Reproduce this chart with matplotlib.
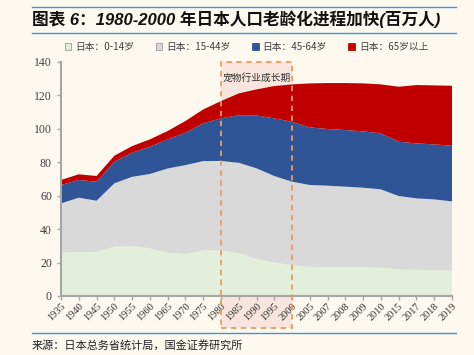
import matplotlib
matplotlib.use("Agg")
import matplotlib.pyplot as plt
import numpy as np
from matplotlib.lines import Line2D
from matplotlib.patches import Rectangle
import matplotlib.transforms as mtransforms

years = ["1935", "1940", "1945", "1950", "1955", "1960", "1965", "1970", "1975", "1980",
         "1985", "1990", "1995", "2000", "2005", "2007", "2008", "2009", "2010", "2015",
         "2017", "2018", "2019"]
age_0_14 = [25.9, 26.3, 26.4, 29.5, 29.9, 28.5, 25.9, 25.1, 27.3, 27.3,
            25.8, 22.3, 20.1, 18.5, 17.5, 17.3, 17.2, 17.1, 16.9, 16.0,
            15.6, 15.4, 15.2]
age_15_44 = [29.5, 32.5, 30.6, 37.9, 41.4, 44.5, 50.4, 53.2, 53.4, 53.5,
             53.9, 54.1, 51.7, 49.9, 48.9, 48.7, 48.2, 47.7, 46.9, 43.8,
             42.8, 42.4, 41.4]
age_45_64 = [11.0, 10.6, 11.4, 12.9, 14.4, 16.3, 17.4, 19.4, 22.6, 25.5,
             28.5, 31.6, 34.5, 35.8, 34.5, 33.9, 33.9, 33.7, 33.5, 32.5,
             32.9, 32.9, 33.3]
age_65 = [3.0, 3.4, 3.4, 3.6, 4.0, 4.4, 5.0, 7.0, 8.3, 10.3,
          13.0, 15.6, 19.3, 22.4, 26.3, 27.5, 28.1, 28.7, 29.3, 32.9,
          34.9, 35.3, 35.9]
series_labels = ["日本：0-14岁", "日本：15-44岁", "日本：45-64岁", "日本：65岁以上"]
title = "图表 6：1980-2000 年日本人口老龄化进程加快(百万人)"
source = "来源：日本总务省统计局，国金证券研究所"
band_label = "宠物行业成长期"
band_start, band_end = "1980", "2000"

BG = "#FDF9EF"
colors = ["#E2EFDA", "#D9D9D9", "#2F5597", "#C00000"]
CJK = ["Noto Sans CJK SC", "DejaVu Sans"]
plt.rcParams['font.family'] = CJK

fig = plt.figure(figsize=(4.74, 3.55), dpi=100, facecolor=BG)
W, H = 474, 355
ax = fig.add_axes([61 / W, 1 - 296 / H, (452 - 61) / W, (296 - 62) / H])
ax.set_facecolor("none")

x = np.arange(len(years))
ax.stackplot(x, age_0_14, age_15_44, age_45_64, age_65, colors=colors,
             labels=series_labels, zorder=1, linewidth=0)
ax.set_xlim(0, len(years) - 1)
ax.set_ylim(0, 140)
ax.set_yticks(np.arange(0, 141, 20))
ax.set_xticks(x)
ax.set_xticklabels(years, rotation=45, ha="right", rotation_mode="anchor",
                   fontfamily="Liberation Serif", fontsize=7.5, color="#333333")
for lab in ax.get_yticklabels():
    lab.set_fontfamily("Liberation Serif")
    lab.set_fontsize(8.5)
    lab.set_color("#404040")
ax.tick_params(axis="both", direction="out", color="#A6A6A6", length=3, width=1)
ax.tick_params(axis="x", pad=1)
for s in ["top", "right"]:
    ax.spines[s].set_visible(False)
for s in ["left", "bottom"]:
    ax.spines[s].set_color("#A6A6A6")
    ax.spines[s].set_linewidth(1.5)

# highlight band
i0, i1 = years.index(band_start), years.index(band_end)
trans = mtransforms.blended_transform_factory(ax.transData, ax.transAxes)
ybot = -(328 - 296) / (296 - 62)
ax.add_patch(Rectangle((i0, ybot), i1 - i0, 1 - ybot, transform=trans,
                       facecolor="#F8E6DE", edgecolor="none", zorder=0.5, clip_on=False))
ax.add_patch(Rectangle((i0, ybot), i1 - i0, 1 - ybot, transform=trans,
                       facecolor="none", edgecolor="#EE9A5E", linestyle=(0, (3, 2.5)),
                       linewidth=1.3, zorder=3, clip_on=False))
ax.text(i0 + 0.1, 0.955, band_label, transform=trans, fontsize=7, color="#333333",
        va="top", ha="left", zorder=4)

# legend
handles = [Rectangle((0, 0), 1, 1, facecolor=c, edgecolor="#999999" if k < 2 else c, linewidth=0.6)
           for k, c in enumerate(colors)]
fig.legend(handles, series_labels, loc="center", bbox_to_anchor=(0.52, 1 - 47 / H), ncol=4,
           frameon=False, fontsize=7, handlelength=0.7, handleheight=0.7,
           handletextpad=0.4, columnspacing=2.2, labelcolor="#404040")

# header / footer
for yy in [7, 33, 333]:
    fig.add_artist(Line2D([32 / W, 456 / W], [1 - yy / H, 1 - yy / H], color="#3A9AD9", linewidth=1))
fig.text(32 / W, 1 - 19 / H, title, fontsize=12, fontweight="bold", fontstyle="italic",
         family=["Liberation Sans", "Noto Sans CJK SC"], va="center", ha="left", color="#111111")
fig.text(32 / W, 1 - 345 / H, source, fontsize=8, va="center", ha="left", color="#222222")

fig.savefig("out.png", dpi=100, facecolor=BG)
